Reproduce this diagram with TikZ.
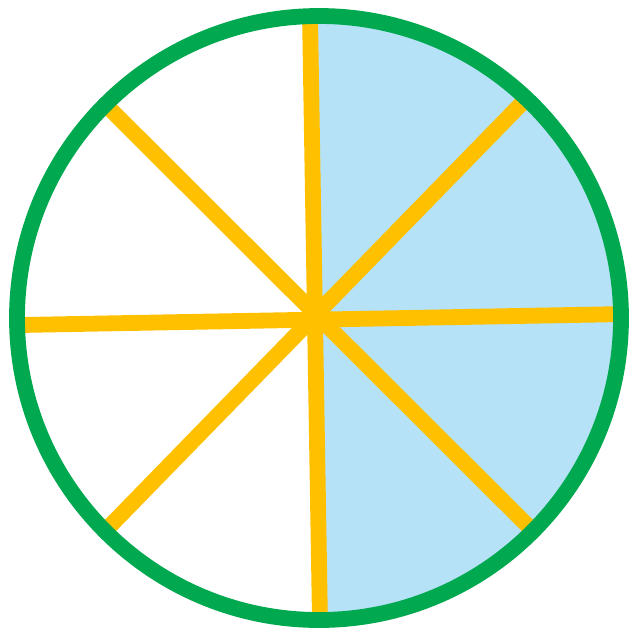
\documentclass[tikz,border=0pt]{standalone}
\usepackage{xcolor}
\usepackage{tikz}
\usetikzlibrary{calc}
\definecolor{rimgreen}{HTML}{00A94F}
\definecolor{spokeorange}{HTML}{FFC000}
\definecolor{halfblue}{HTML}{B5E2F7}

\begin{document}
\begin{tikzpicture}[
        x=0.02cm, y=-0.02cm,
        rim/.style={draw=rimgreen, line width=9pt},
        spoke/.style={draw=spokeorange, line width=9pt}
        ]
        \useasboundingbox (0,0) rectangle (631,632);
        % Points
        \coordinate (O) at (319,318);
        \coordinate (N) at (310,16);
        \coordinate (S) at (320,623);
        \coordinate (W) at (20,325);
        \coordinate (E) at (627,314);
        \coordinate (NW) at (109,108);
        \coordinate (SE) at (533,531);
        \coordinate (NE) at (526,99);
        \coordinate (SW) at (108,528);

        % Blue half
        \begin{scope}
            \clip (O) circle (302);
            \fill[halfblue] (N) -- ($(N)!-1!(S)$) -- ++(400,0) -- ++(0,1400) -- ($(S)!-1!(N)$) -- cycle;
        \end{scope}

        % Spokes
        \draw[spoke] (N) -- (S);
        \draw[spoke] (W) -- (E);
        \draw[spoke] (NW) -- (SE);
        \draw[spoke] (NE) -- (SW);

        % Rim
        \draw[rim] (O) circle (302);
    \end{tikzpicture}
\end{document}
